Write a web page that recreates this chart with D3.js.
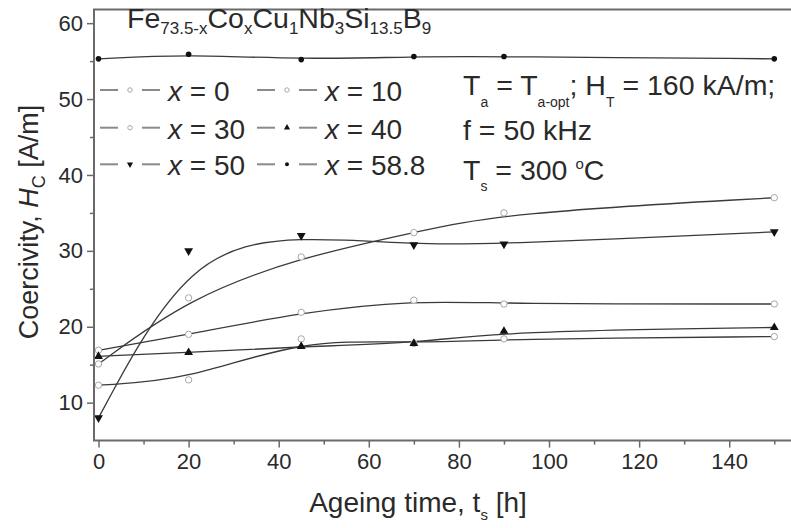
<!DOCTYPE html>
<html>
<head>
<meta charset="utf-8">
<script src="https://cdn.jsdelivr.net/npm/d3@7"></script>
<style>
  body { margin: 0; background: #fff; }
  svg text { font-family: "Liberation Sans", Arial, sans-serif; fill: #2a2a2a; }
</style>
</head>
<body>
<div id="chart"></div>
<script>
// ageing time [h]
const times = [0, 20, 45, 70, 90, 150];
// coercivity Hc [A/m] per Co content x
const hcX0 = [12.3, 13.0, 18.4, 17.8, 18.4, 18.7];
const hcX10 = [16.9, 19.0, 21.9, 23.5, 23.0, 23.0];
const hcX30 = [15.1, 23.8, 29.2, 32.4, 35.0, 37.0];
const hcX40 = [16.1, 16.6, 17.4, 17.8, 19.4, 19.9];
const hcX50 = [8.0, 30.0, 32.0, 30.8, 30.9, 32.5];
const hcX588 = [55.3, 55.9, 55.2, 55.6, 55.6, 55.3];

const seriesNames = ["0", "10", "30", "40", "50", "58.8"];
const seriesValues = [hcX0, hcX10, hcX30, hcX40, hcX50, hcX588];
const seriesSymbols = ["open", "open", "open", "up", "down", "dot"];

const xTicks = [0, 20, 40, 60, 80, 100, 120, 140];
const xMinor = [10, 30, 50, 70, 90, 110, 130, 150];
const yTicks = [10, 20, 30, 40, 50, 60];
const yMinor = [15, 25, 35, 45, 55];

var w = 791, h = 528;
var svg = d3.select("#chart").append("svg").attr("width", w).attr("height", h);

var x = d3.scaleLinear().domain([-1, 155]).range([94, 796.8]);
var y = d3.scaleLinear().domain([5, 61.8]).range([440.6, 9.5]);

// data lines (B-spline like the original)
var line = d3.line()
  .x(function(d) { return x(d[0]); })
  .y(function(d) { return y(d[1]); })
  .curve(d3.curveBasis);

seriesValues.forEach(function(vals) {
  svg.append("path")
    .attr("d", line(d3.zip(times, vals)))
    .attr("fill", "none")
    .attr("stroke", "#3a3a3a")
    .attr("stroke-width", 1.3);
});

function drawMarker(g, kind, cx, cy, scale) {
  scale = scale || 1;
  if (kind === "open") {
    g.append("circle").attr("cx", cx).attr("cy", cy).attr("r", 3.2 * scale)
      .attr("fill", "#fff").attr("stroke", "#a8a8a8").attr("stroke-width", 1);
  } else if (kind === "dot") {
    g.append("circle").attr("cx", cx).attr("cy", cy).attr("r", 2.8 * scale)
      .attr("fill", "#111");
  } else {
    var sym = d3.symbol().type(d3.symbolTriangle).size(34 * scale * scale);
    g.append("path").attr("d", sym())
      .attr("transform", "translate(" + cx + "," + cy + ")" + (kind === "down" ? " rotate(180)" : ""))
      .attr("fill", "#111");
  }
}

var marks = svg.append("g");
seriesValues.forEach(function(vals, i) {
  vals.forEach(function(v, j) {
    drawMarker(marks, seriesSymbols[i], x(times[j]), y(v));
  });
});

// frame
svg.append("path")
  .attr("d", "M" + x(155) + "," + y(61.8) + "H" + x(-1) + "V" + y(5) + "H" + x(155))
  .attr("fill", "none").attr("stroke", "#6a6a6a").attr("stroke-width", 2);

var xAxis = svg.append("g").attr("transform", "translate(0," + y(5) + ")");
xAxis.call(d3.axisBottom(x).tickValues(xTicks).tickSize(7).tickPadding(6));
xAxis.append("g").call(d3.axisBottom(x).tickValues(xMinor).tickSize(4).tickFormat(""));
xAxis.selectAll(".domain").remove();
xAxis.selectAll("line").attr("stroke", "#6a6a6a").attr("stroke-width", 1.5);
xAxis.selectAll("text").attr("font-size", 22).attr("fill", "#2a2a2a");

var yAxis = svg.append("g").attr("transform", "translate(" + x(-1) + ",0)");
yAxis.call(d3.axisLeft(y).tickValues(yTicks).tickSize(7).tickPadding(4));
yAxis.append("g").call(d3.axisLeft(y).tickValues(yMinor).tickSize(4).tickFormat(""));
yAxis.selectAll(".domain").remove();
yAxis.selectAll("line").attr("stroke", "#6a6a6a").attr("stroke-width", 1.5);
yAxis.selectAll("text").attr("font-size", 22).attr("fill", "#2a2a2a");

// axis titles
var xt = svg.append("text").attr("x", 418).attr("y", 512)
  .attr("text-anchor", "middle").attr("font-size", 28);
xt.append("tspan").text("Ageing time, t");
xt.append("tspan").attr("font-size", 15).attr("dy", 8).text("s");
xt.append("tspan").attr("dy", -8).text(" [h]");

var yt = svg.append("text").attr("transform", "translate(38,222) rotate(-90)")
  .attr("text-anchor", "middle").attr("font-size", 27);
yt.append("tspan").text("Coercivity, ");
yt.append("tspan").attr("font-style", "italic").text("H");
yt.append("tspan").attr("font-size", 18).attr("dy", 7).text("C");
yt.append("tspan").attr("dy", -7).text(" [A/m]");

// composition title
var title = svg.append("text").attr("x", 127).attr("y", 34).attr("font-size", 28.5);
[["Fe", "73.5-x"], ["Co", "x"], ["Cu", "1"], ["Nb", "3"], ["Si", "13.5"], ["B", "9"]].forEach(function(p) {
  title.append("tspan").attr("dy", title.node().childNodes.length ? -6 : 0).text(p[0]);
  title.append("tspan").attr("font-size", 17).attr("dy", 6).text(p[1]);
});

// legend
var legendRows = [90, 127.7, 164.3];
var legendCols = [130, 287];
var leg = svg.append("g");
seriesNames.forEach(function(name, i) {
  var cx = legendCols[i % 2], cy = legendRows[Math.floor(i / 2)];
  leg.append("line").attr("x1", cx - 30).attr("x2", cx - 12).attr("y1", cy).attr("y2", cy)
    .attr("stroke", "#8a8a8a").attr("stroke-width", 2);
  leg.append("line").attr("x1", cx + 12).attr("x2", cx + 30).attr("y1", cy).attr("y2", cy)
    .attr("stroke", "#8a8a8a").attr("stroke-width", 2);
  drawMarker(leg, seriesSymbols[i], cx, cy, 0.7);
  var t = leg.append("text").attr("x", cx + 38).attr("y", cy + 11).attr("font-size", 28);
  t.append("tspan").attr("font-style", "italic").text("x");
  t.append("tspan").text(" = " + name);
});

// conditions
var c1 = svg.append("text").attr("x", 463).attr("y", 95).attr("font-size", 28.5);
c1.append("tspan").text("T");
c1.append("tspan").attr("font-size", 14).attr("dy", 12).text("a");
c1.append("tspan").attr("dy", -12).text(" = T");
c1.append("tspan").attr("font-size", 14).attr("dy", 12).text("a-opt");
c1.append("tspan").attr("dy", -12).text("; H");
c1.append("tspan").attr("font-size", 14).attr("dy", 12).text("T");
c1.append("tspan").attr("dy", -12).text(" = 160 kA/m;");

svg.append("text").attr("x", 463).attr("y", 140).attr("font-size", 28.5).text("f = 50 kHz");

var c3 = svg.append("text").attr("x", 463).attr("y", 180).attr("font-size", 28.5);
c3.append("tspan").text("T");
c3.append("tspan").attr("font-size", 14).attr("dy", 11).text("s");
c3.append("tspan").attr("dy", -11).text(" = 300 ");
c3.append("tspan").attr("font-size", 15).attr("dy", -11).text("o");
c3.append("tspan").attr("dy", 11).text("C");
</script>
</body>
</html>
